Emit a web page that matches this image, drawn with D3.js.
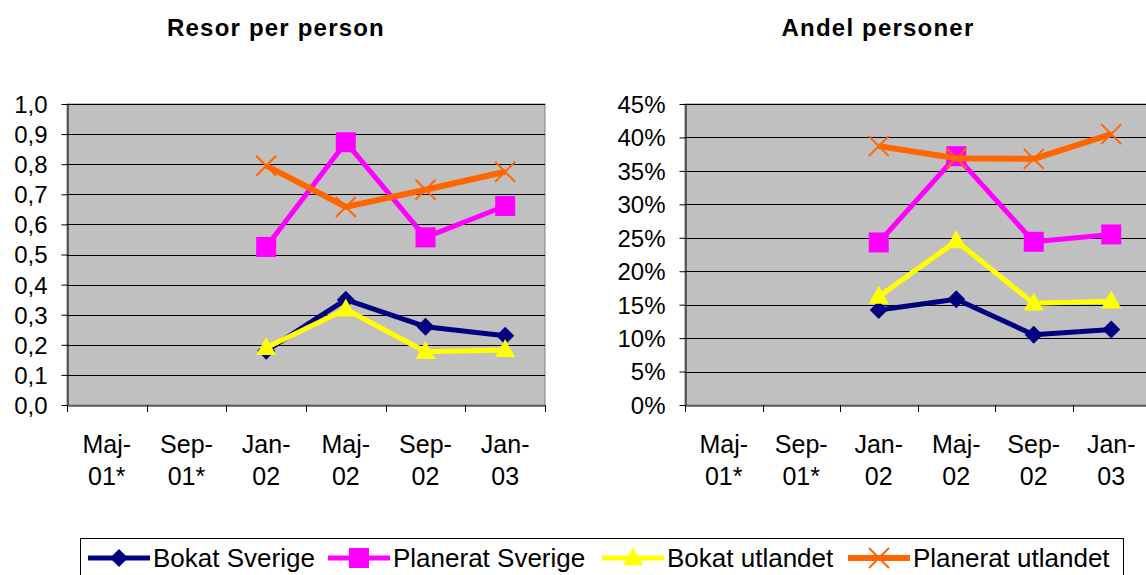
<!DOCTYPE html>
<html><head><meta charset="utf-8">
<script src="https://cdn.jsdelivr.net/npm/d3@7"></script>
<style>body{margin:0;background:#fff;} svg{display:block;font-family:"Liberation Sans",Arial,sans-serif;}</style>
</head><body>
<svg id="c" width="1146" height="575"></svg>
<script>
const categories = ["Maj-01*","Sep-01*","Jan-02","Maj-02","Sep-02","Jan-03"];
const seriesNames = ["Bokat Sverige","Planerat Sverige","Bokat utlandet","Planerat utlandet"];
const seriesColors = ["#000080","#FF00FF","#FFFF00","#FF6600"];
const seriesMarkers = ["diamond","square","triangle","x"];
// Resor per person
const resorBokatSverige = [null,null,0.18,0.35,0.26,0.23];
const resorPlaneratSverige = [null,null,0.525,0.873,0.557,0.661];
const resorBokatUtlandet = [null,null,0.19,0.318,0.177,0.183];
const resorPlaneratUtlandet = [null,null,0.795,0.658,0.715,0.775];
const resorTicks = [0,0.1,0.2,0.3,0.4,0.5,0.6,0.7,0.8,0.9,1.0];
// Andel personer
const andelBokatSverige = [null,null,0.142,0.158,0.105,0.113];
const andelPlaneratSverige = [null,null,0.243,0.372,0.244,0.255];
const andelBokatUtlandet = [null,null,0.162,0.245,0.152,0.155];
const andelPlaneratUtlandet = [null,null,0.387,0.369,0.368,0.405];
const andelTicks = [0,0.05,0.10,0.15,0.20,0.25,0.30,0.35,0.40,0.45];

const svg = d3.select("#c");
const markerSize = {diamond:18, square:20, triangle:20, x:20};
const lineWidth = [5,5,5,6];

function marker(g, type, color, x, y, s) {
  if (type === "diamond") {
    const r = s/2;
    g.append("path").attr("d",`M${x},${y-r}L${x+r},${y}L${x},${y+r}L${x-r},${y}Z`).attr("fill",color);
  } else if (type === "square") {
    g.append("rect").attr("x",x-s/2).attr("y",y-s/2).attr("width",s).attr("height",s).attr("fill",color);
  } else if (type === "triangle") {
    const h = s*0.9;
    g.append("path").attr("d",`M${x},${y-h*0.6}L${x+s/2},${y+h*0.4}L${x-s/2},${y+h*0.4}Z`).attr("fill",color);
  } else if (type === "x") {
    const r = s/2;
    g.append("path").attr("d",`M${x-r},${y-r}L${x+r},${y+r}M${x-r},${y+r}L${x+r},${y-r}`).attr("stroke",color).attr("stroke-width",2).attr("fill","none");
  }
}

function chart(opts) {
  const {x0,x1,y0,y1,title,titleX,data,ticks,fmt,max} = opts;
  const g = svg.append("g");
  const x = d3.scaleBand().domain(categories).range([x0, x1]).padding(0);
  const y = d3.scaleLinear().domain([0,max]).range([y1,y0]);
  g.append("text").attr("x",titleX).attr("y",36).attr("text-anchor","middle").attr("font-weight","bold")
    .attr("font-size",24).attr("letter-spacing",1.2).text(title);
  g.append("rect").attr("x",x0).attr("y",y0).attr("width",x1-x0).attr("height",y1-y0).attr("fill","#C0C0C0").attr("stroke","#808080").attr("stroke-width",1);
  // grid
  g.append("g").selectAll("line").data(ticks.slice(1)).join("line")
    .attr("x1",x0).attr("x2",x1).attr("y1",d=>Math.round(y(d))+0.5).attr("y2",d=>Math.round(y(d))+0.5)
    .attr("stroke","#000").attr("stroke-width",1);
  // y axis
  const ya = g.append("g").attr("transform",`translate(${x0+0.5},0)`)
    .call(d3.axisLeft(y).tickValues(ticks).tickFormat(fmt).tickSize(6).tickSizeOuter(0));
  ya.select(".domain").attr("stroke","#000");
  ya.selectAll(".tick line").attr("stroke","#000");
  ya.selectAll(".tick text").attr("font-size",24).attr("fill","#000").attr("font-family","Liberation Sans, Arial, sans-serif").attr("x",-20).attr("dy","0.35em");
  // x axis
  const xa = g.append("g").attr("transform",`translate(0,${y1+0.5})`)
    .call(d3.axisBottom(x).tickSize(0).tickFormat(""));
  xa.select(".domain").attr("stroke","#000");
  const bounds = categories.map(c=>x(c)).concat([x1]);
  g.append("g").selectAll("line").data(bounds).join("line")
    .attr("x1",d=>Math.round(d)+0.5).attr("x2",d=>Math.round(d)+0.5).attr("y1",y1).attr("y2",y1+7).attr("stroke","#000");
  const lab = g.append("g").selectAll("text").data(categories).join("text")
    .attr("x",d=>x(d)+x.bandwidth()/2).attr("text-anchor","middle").attr("font-size",25);
  lab.append("tspan").attr("x",d=>x(d)+x.bandwidth()/2).attr("y",453).text(d=>d.split("-")[0]+"-");
  lab.append("tspan").attr("x",d=>x(d)+x.bandwidth()/2).attr("y",485).text(d=>d.split("-")[1]);
  // series (line then markers, series by series)
  data.forEach((vals,i)=>{
    const pts = vals.map((v,j)=>v==null?null:[x(categories[j])+x.bandwidth()/2, y(v)]).filter(p=>p);
    g.append("path").attr("d",d3.line()(pts)).attr("fill","none").attr("stroke",seriesColors[i]).attr("stroke-width",lineWidth[i]).attr("stroke-linejoin","round");
    vals.forEach((v,j)=>{
      if (v==null) return;
      marker(g, seriesMarkers[i], seriesColors[i], x(categories[j])+x.bandwidth()/2, y(v), markerSize[seriesMarkers[i]]);
    });
  });
}

chart({x0:67,x1:545,y0:104,y1:405,title:"Resor per person",titleX:276,
  data:[resorBokatSverige,resorPlaneratSverige,resorBokatUtlandet,resorPlaneratUtlandet],
  ticks:resorTicks,fmt:d=>d3.format(".1f")(d).replace(".",","),max:1.0});
chart({x0:685,x1:1150,y0:104,y1:405,title:"Andel personer",titleX:878,
  data:[andelBokatSverige,andelPlaneratSverige,andelBokatUtlandet,andelPlaneratUtlandet],
  ticks:andelTicks,fmt:d=>Math.round(d*100)+"%",max:0.45});

// legend
const lg = svg.append("g");
lg.append("rect").attr("x",80.5).attr("y",538.5).attr("width",1043).attr("height",50).attr("fill","#fff").attr("stroke","#000").attr("stroke-width",1);
const legX = [88,328,602,848];
seriesNames.forEach((n,i)=>{
  const lx = legX[i], ly = 558;
  lg.append("line").attr("x1",lx).attr("x2",lx+62).attr("y1",ly).attr("y2",ly).attr("stroke",seriesColors[i]).attr("stroke-width",lineWidth[i]);
  marker(lg, seriesMarkers[i], seriesColors[i], lx+31, ly, markerSize[seriesMarkers[i]]);
  lg.append("text").attr("x",lx+65).attr("y",ly+9).attr("font-size",26).text(n);
});
</script>
</body></html>
